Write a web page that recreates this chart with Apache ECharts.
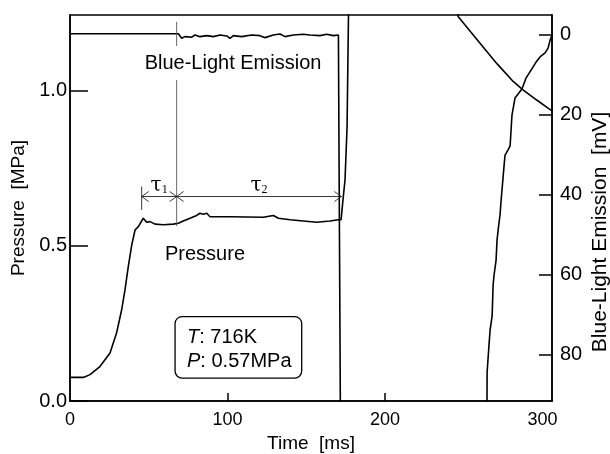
<!DOCTYPE html>
<html>
<head>
<meta charset="utf-8">
<script src="https://cdn.jsdelivr.net/npm/echarts@6/dist/echarts.min.js"></script>
<style>html,body{margin:0;padding:0;background:#fff;}#c{width:610px;height:454px;}</style>
</head>
<body>
<div id="c"></div>
<script>
// ---- Data ----
const pressureTime = [0, 8.5, 12.7, 19.0, 25.4, 29.6, 32.8, 34.9, 37.0, 39.2, 41.3, 43.4, 46.5, 48.7, 50.8, 54.0, 59.2, 65.6, 68.8, 71.9, 76.2, 80.4, 82.5, 84.6, 86.8, 88.9, 101.6, 122.7, 129.1, 132.3, 139.7, 148.1, 156.6, 165.1, 170.3, 172.1, 173.3, 174.6, 175.9, 176.8, 177.2, 244.0, 246.5, 260.3, 270.9, 281.5, 287.8, 296.3, 303.7, 306.0];
const pressureMPa  = [0.076, 0.076, 0.085, 0.111, 0.155, 0.22, 0.294, 0.358, 0.433, 0.503, 0.551, 0.562, 0.589, 0.576, 0.578, 0.570, 0.568, 0.570, 0.573, 0.580, 0.589, 0.598, 0.605, 0.602, 0.605, 0.594, 0.594, 0.592, 0.598, 0.589, 0.584, 0.580, 0.576, 0.580, 0.584, 0.584, 0.648, 0.713, 0.884, 1.244, 1.40, 1.30, 1.238, 1.153, 1.088, 1.029, 1.002, 0.970, 0.943, 0.935];

const blueTime = [0, 68.8, 70.9, 73.0, 77.2, 79.4, 82.5, 86.8, 91.0, 95.2, 99.5, 101.6, 103.7, 109.0, 115.3, 120.6, 123.8, 129.1, 133.3, 136.5, 141.8, 148.1, 152.4, 158.7, 163.0, 167.2, 170.4, 171.4, 172.0, 264.5, 264.8, 266.0, 266.7, 268.0, 268.6, 269.2, 270.5, 271.1, 272.1, 273.0, 273.7, 274.9, 275.6, 276.2, 278.1, 279.4, 280.4, 280.6, 282.5, 285.1, 287.0, 289.5, 292.7, 295.9, 298.4, 301.6, 303.5, 304.8, 306.0];
const blueMV   = [-0.3, -0.3, 0.84, 0.42, 0.58, 0.0, 0.42, 0.17, 0.42, 0.0, 0.25, 0.84, 0.17, 0.42, 0.0, 0.17, 0.67, 0.0, -0.25, 0.42, 0.0, -0.17, 0.0, 0.17, -0.17, 0.17, 0.0, 0.42, 120, 120, 84.5, 77.7, 73.9, 70.4, 62.7, 60.2, 56.4, 51.4, 47.9, 45.1, 41.4, 35.8, 32.6, 30.1, 28.8, 27.8, 21.3, 20.1, 15.8, 14.5, 13.5, 10.8, 8.8, 6.8, 5.5, 4.5, 3.3, 1.3, 0.0];

const timeTicks = [0, 100, 200, 300];
const pressureTicks = [0, 0.5, 1.0];
const blueTicks = [0, 20, 40, 60, 80];

// annotation anchors (data coordinates: ms, MPa)
const tauMarkTimes = [45.5, 67.7, 172.3];
const tauArrowLevel = 0.659;
const tauLabelLevel = 0.694;
const tauLabels = ['1', '2'];
const condLines = [['T', '716K'], ['P', '0.57MPa']];

const FONT = 'Liberation Sans, Arial, Helvetica, sans-serif';

const chart = echarts.init(document.getElementById('c'), null, {renderer: 'canvas'});

function renderAnnot(params, api) {
  const c = (t, p) => api.coord([t, p]);
  const thin = {stroke: '#222', lineWidth: 0.9};
  const kids = [];
  const seg = (a, b, st) => kids.push({type: 'line', shape: {x1: a[0], y1: a[1], x2: b[0], y2: b[1]}, style: st || thin});
  // tau marker lines
  seg(c(tauMarkTimes[0], 0.691), c(tauMarkTimes[0], 0.616));
  seg(c(tauMarkTimes[1], 1.222), c(tauMarkTimes[1], 0.564), {stroke: '#444', lineWidth: 0.8});
  // arrow shaft
  const y0 = c(0, tauArrowLevel)[1];
  seg(c(tauMarkTimes[0], tauArrowLevel), c(tauMarkTimes[2], tauArrowLevel));
  const chev = (t, d) => {
    const x = c(t, tauArrowLevel)[0];
    seg([x - d * 7, y0 - 5], [x, y0]);
    seg([x - d * 7, y0 + 5], [x, y0]);
  };
  chev(tauMarkTimes[0], -1);
  chev(tauMarkTimes[1], 1);
  chev(tauMarkTimes[1], -1);
  chev(tauMarkTimes[2], 1);
  // tau labels
  for (let i = 0; i < 2; i++) {
    const mid = (tauMarkTimes[i] + tauMarkTimes[i + 1]) / 2;
    const p = c(mid, tauLabelLevel);
    kids.push({type: 'text', style: {
      text: '{t|τ}{s|' + tauLabels[i] + '}', x: p[0], y: p[1], align: 'center', verticalAlign: 'middle', fill: '#000',
      rich: {t: {fontSize: 20, fontFamily: 'DejaVu Serif, Liberation Serif, serif', fill: '#000'},
             s: {fontSize: 12, fontFamily: 'Liberation Serif, serif', fill: '#000', verticalAlign: 'bottom', padding: [8, 0, 0, 0]}}
    }});
  }
  // series labels
  let p = c(103.5, 1.089);
  kids.push({type: 'text', style: {text: 'Blue-Light Emission', x: p[0], y: p[1], align: 'center', verticalAlign: 'middle',
    fill: '#000', font: '20px ' + FONT, backgroundColor: '#fff', padding: [7, 2]}});
  p = c(85.7, 0.471);
  kids.push({type: 'text', style: {text: 'Pressure', x: p[0], y: p[1], align: 'center', verticalAlign: 'middle',
    fill: '#000', font: '20px ' + FONT}});
  // conditions box
  const tl = c(66.7, 0.272), br = c(147.1, 0.074);
  kids.push({type: 'rect', shape: {x: tl[0], y: tl[1], width: br[0] - tl[0], height: br[1] - tl[1], r: 7},
    style: {fill: '#fff', stroke: '#000', lineWidth: 1.3}});
  const lvls = [0.204, 0.127];
  condLines.forEach((ln, i) => {
    const q = c(74.3, lvls[i]);
    kids.push({type: 'text', style: {text: '{i|' + ln[0] + '}: ' + ln[1], x: q[0], y: q[1], align: 'left', verticalAlign: 'middle',
      fill: '#000', font: '20px ' + FONT,
      rich: {i: {fontStyle: 'italic', fontSize: 20, fontFamily: FONT, fill: '#000'}}}});
  });
  return {type: 'group', children: kids};
}

const axisLineStyle = {color: '#000', width: 1.5};

const option = {
  backgroundColor: '#fff',
  animation: false,
  grid: {left: 70, top: 15, width: 482, height: 386, containLabel: false, outerBoundsMode: 'none',
         show: true, borderColor: '#000', borderWidth: 1.5, backgroundColor: 'transparent'},
  xAxis: {
    type: 'value', min: 0, max: 306,
    name: 'Time  [ms]', nameLocation: 'middle', nameGap: 33,
    nameTextStyle: {fontSize: 19, fontFamily: FONT, color: '#000'},
    axisLine: {show: true, lineStyle: axisLineStyle},
    axisTick: {show: true, inside: true, length: 8, lineStyle: axisLineStyle, customValues: [100, 200]},
    axisLabel: {color: '#000', fontSize: 18, fontFamily: FONT, margin: 10, customValues: timeTicks},
    splitLine: {show: false}
  },
  yAxis: [{
    type: 'value', min: 0, max: 1.244, position: 'left',
    name: 'Pressure  [MPa]', nameLocation: 'middle', nameGap: 35,
    nameTextStyle: {fontSize: 19, fontFamily: FONT, color: '#000'},
    axisLine: {show: true, lineStyle: axisLineStyle},
    axisTick: {show: true, inside: true, length: 18, lineStyle: axisLineStyle, customValues: pressureTicks},
    axisLabel: {color: '#000', fontSize: 20, fontFamily: FONT, margin: 3, customValues: pressureTicks, formatter: v => v.toFixed(1)},
    splitLine: {show: false}
  }, {
    type: 'value', min: -5, max: 91.7, inverse: true, position: 'right',
    name: 'Blue-Light Emission  [mV]', nameLocation: 'middle', nameGap: 38, nameMoveOverlap: false,
    nameTextStyle: {fontSize: 21, fontFamily: FONT, color: '#000', padding: [0, 48, 0, 0]},
    axisLine: {show: true, lineStyle: axisLineStyle},
    axisTick: {show: true, inside: true, length: 13, lineStyle: axisLineStyle, customValues: blueTicks},
    axisLabel: {color: '#000', fontSize: 20, fontFamily: FONT, margin: 8, customValues: blueTicks},
    splitLine: {show: false}
  }],
  series: [{
    type: 'line', name: 'Pressure', yAxisIndex: 0, showSymbol: false, symbol: 'none', clip: true,
    lineStyle: {color: '#000', width: 1.6},
    data: pressureTime.map((t, i) => [t, pressureMPa[i]])
  }, {
    type: 'line', name: 'Blue-Light Emission', yAxisIndex: 1, showSymbol: false, symbol: 'none', clip: true,
    lineStyle: {color: '#000', width: 1.6},
    data: blueTime.map((t, i) => [t, blueMV[i]])
  }, {
    type: 'custom', yAxisIndex: 0, renderItem: renderAnnot, data: [[0, 0]], z: 5, silent: true
  }]
};
chart.setOption(option);
</script>
</body>
</html>
